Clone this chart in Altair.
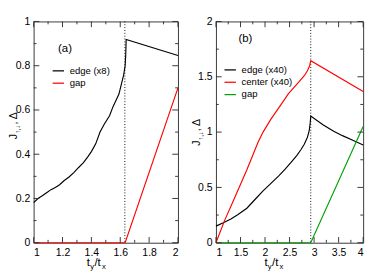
import altair as alt
import pandas as pd

FONT = "Liberation Sans, Arial, sans-serif"
FRAME = "#333333"

# ---------------- panel (a) data ----------------
a_edge_x = [1.00, 1.03, 1.06, 1.09, 1.12, 1.15, 1.18, 1.21, 1.245, 1.28, 1.31,
            1.345, 1.375, 1.40, 1.43, 1.46, 1.49, 1.526, 1.55, 1.575, 1.591, 1.61,
            1.623, 1.634, 1.638, 1.641, 2.00]
a_edge_y = [0.181, 0.200, 0.212, 0.226, 0.240, 0.250, 0.262, 0.280, 0.297, 0.318, 0.339,
            0.362, 0.388, 0.412, 0.447, 0.500, 0.537, 0.574, 0.615, 0.650, 0.672, 0.722,
            0.756, 0.800, 0.850, 0.919, 0.846]
a_gap_x = [1.0, 1.634, 2.0]
a_gap_y = [0.0, 0.0, 0.70]
a_transition = [1.632]
a_names = ["edge (x8)", "gap"]
a_colors = ["black", "#ff0000"]

a_xmaj = [1, 1.2, 1.4, 1.6, 1.8, 2]
a_xmin = [1.1, 1.3, 1.5, 1.7, 1.9]
a_ymaj = [0, 0.2, 0.4, 0.6, 0.8, 1]
a_ymin = [0.1, 0.3, 0.5, 0.7, 0.9]

# ---------------- panel (b) data ----------------
b_edge_x = [1.00, 1.15, 1.305, 1.45, 1.63, 1.80, 1.955, 2.12, 2.28, 2.41, 2.539, 2.65,
            2.734, 2.80, 2.864, 2.90, 2.92, 2.932, 3.188, 3.40, 3.578, 3.80, 4.00]
b_edge_y = [0.150, 0.180, 0.215, 0.255, 0.312, 0.393, 0.466, 0.537, 0.605, 0.665, 0.731, 0.790,
            0.843, 0.890, 0.954, 1.010, 1.080, 1.145, 1.065, 1.008, 0.968, 0.925, 0.884]
b_center_x = [1.00, 1.175, 1.37, 1.63, 1.86, 1.96, 2.117, 2.28, 2.474, 2.669, 2.80,
              2.864, 2.91, 2.932, 4.00]
b_center_y = [0.00, 0.200, 0.396, 0.660, 0.910, 1.000, 1.115, 1.219, 1.345, 1.442, 1.510,
              1.554, 1.600, 1.646, 1.367]
b_gap_x = [1.0, 2.932, 4.0]
b_gap_y = [0.0, 0.0, 1.05]
b_transition = [2.932]
b_names = ["edge (x40)", "center (x40)", "gap"]
b_colors = ["black", "#ff0000", "#00a000"]

b_xmaj = [1, 1.5, 2, 2.5, 3, 3.5, 4]
b_xmin = [1.25, 1.75, 2.25, 2.75, 3.25, 3.75]
b_ymaj = [0, 0.5, 1, 1.5, 2]
b_ymin = [0.25, 0.75, 1.25, 1.75]


def panel(W, H, series, names, colors, xdom, ydom, xmaj, xmin, ymaj, ymin, trans,
          leg_x, leg_y, label, label_xy, xt_x0, yt_y0):
    rows = []
    for name, (xs, ys) in zip(names, series):
        for i, (xv, yv) in enumerate(zip(xs, ys)):
            rows.append({"x": xv, "y": yv, "s": name, "i": i})
    df = pd.DataFrame(rows)

    X = alt.X("x:Q", scale=alt.Scale(domain=xdom, nice=False, zero=False),
              axis=alt.Axis(values=xmaj, ticks=False, domain=False, grid=False, title=None,
                            labelFont=FONT, labelFontSize=11, labelPadding=4,
                            labelColor="black", format="~g"))
    Y = alt.Y("y:Q", scale=alt.Scale(domain=ydom, nice=False, zero=False),
              axis=alt.Axis(values=ymaj, ticks=False, domain=False, grid=False, title=None,
                            labelFont=FONT, labelFontSize=11, labelPadding=4,
                            labelColor="black", format="~g"))

    lines = alt.Chart(df).mark_line(strokeWidth=1.2).encode(
        x=X, y=Y, order="i:Q",
        color=alt.Color("s:N", scale=alt.Scale(domain=names, range=colors),
                        legend=alt.Legend(orient="none", legendX=leg_x, legendY=leg_y,
                                          title=None, symbolType="stroke", symbolSize=144,
                                          symbolStrokeWidth=1.3, labelFont=FONT,
                                          labelFontSize=10, labelColor="black",
                                          rowPadding=1, padding=0, labelOffset=5)),
    )

    dotted = alt.Chart(pd.DataFrame({"x": trans})).mark_rule(
        color="black", strokeDash=[1, 2], strokeWidth=1).encode(x=X)

    layers = [dotted, lines]
    # inward ticks on all four sides
    for vals, L in ((xmaj, 6), (xmin, 3)):
        d = pd.DataFrame({"x": vals})
        layers.append(alt.Chart(d).mark_rule(color=FRAME).encode(
            x=X, y=alt.value(H - L), y2=alt.value(H)))
        layers.append(alt.Chart(d).mark_rule(color=FRAME).encode(
            x=X, y=alt.value(0), y2=alt.value(L)))
    for vals, L in ((ymaj, 6), (ymin, 3)):
        d = pd.DataFrame({"y": vals})
        layers.append(alt.Chart(d).mark_rule(color=FRAME).encode(
            y=Y, x=alt.value(0), x2=alt.value(L)))
        layers.append(alt.Chart(d).mark_rule(color=FRAME).encode(
            y=Y, x=alt.value(W - L), x2=alt.value(W)))

    one = pd.DataFrame({"t": [label]})
    layers.append(alt.Chart(one).mark_text(font=FONT, fontSize=12, color="black").encode(
        x=alt.value(label_xy[0]), y=alt.value(label_xy[1]), text="t:N"))

    # x-axis title  t_y / t_x
    xb = H + 25
    parts = [("t", 0, xb, 12), ("y", 3.6, xb + 3, 8), ("/t", 8.0, xb, 12), ("x", 16.0, xb + 3, 8)]
    for txt, dx, yy, fs in parts:
        layers.append(alt.Chart(pd.DataFrame({"t": [txt]})).mark_text(
            font=FONT, fontSize=fs, color="black", align="left", baseline="alphabetic").encode(
            x=alt.value(xt_x0 + dx), y=alt.value(yy), text="t:N"))

    # y-axis title  J_{↑,↓}, Δ  (rotated)
    yparts = [("J", 0, -17, 11), ("↑,↓", 6.0, -14, 7), (", Δ", 15.5, -17, 11)]
    for txt, dy, xx, fs in yparts:
        layers.append(alt.Chart(pd.DataFrame({"t": [txt]})).mark_text(
            font=FONT, fontSize=fs, color="black", align="left", baseline="alphabetic",
            angle=270).encode(
            x=alt.value(xx), y=alt.value(yt_y0 - dy), text="t:N"))

    return alt.layer(*layers).properties(width=W, height=H)


H = 233
pa = panel(152, H, [(a_edge_x, a_edge_y), (a_gap_x, a_gap_y)], a_names, a_colors,
           [1, 2], [0, 1], a_xmaj, a_xmin, a_ymaj, a_ymin, a_transition,
           19, 45, "(a)", (33, 28), 56, 124)
pb = panel(155, H, [(b_edge_x, b_edge_y), (b_center_x, b_center_y), (b_gap_x, b_gap_y)],
           b_names, b_colors, [1, 4], [0, 2], b_xmaj, b_xmin, b_ymaj, b_ymin, b_transition,
           8, 44, "(b)", (31, 18), 51, 131)

chart = alt.hconcat(pa, pb, spacing=10).resolve_scale(color="independent").properties(
    padding=0, background="white"
).configure_view(stroke=FRAME, strokeWidth=1)

chart.save("out.html", embed_options={"renderer": "svg", "actions": False})
